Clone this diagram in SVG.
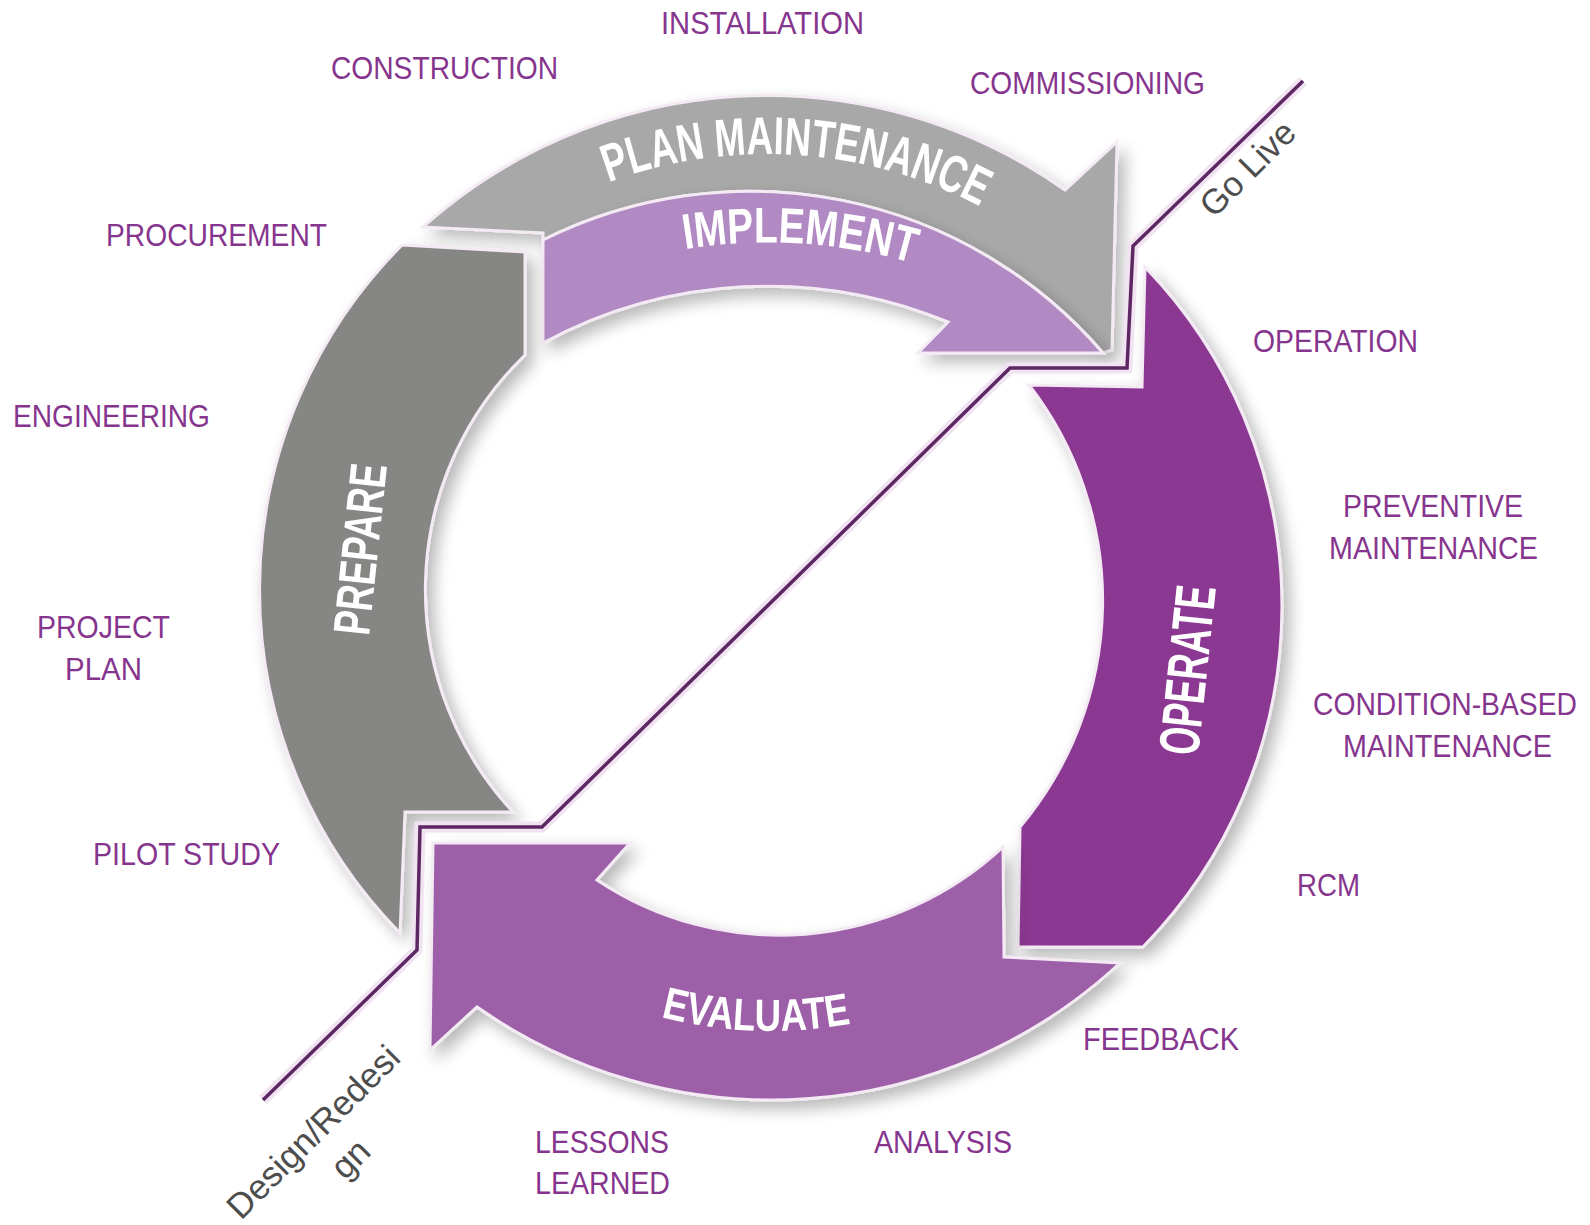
<svg xmlns="http://www.w3.org/2000/svg" width="1590" height="1225" viewBox="0 0 1590 1225">
<defs>
<style>
.lbl{font-family:"Liberation Sans Narrow","Liberation Sans",Arial,sans-serif;font-size:32px;fill:#86358e;}
.lblw{font-family:"Liberation Sans",Arial,sans-serif;font-size:32px;fill:#86358e;}
.ring{font-family:"Liberation Sans Narrow","Liberation Sans",Arial,sans-serif;font-weight:bold;fill:#ffffff;}
.note{font-family:"Liberation Sans",Arial,sans-serif;font-size:35px;fill:#4d4d4d;}
.band{stroke:#f3eaf4;stroke-width:3;stroke-linejoin:miter;}
.halo{fill:none;stroke:#f1e3f2;stroke-width:11;stroke-linejoin:miter;}
.line{fill:none;stroke:#5c2763;stroke-width:3.5;stroke-linejoin:miter;}
</style>
<filter id="sh" x="-15%" y="-15%" width="140%" height="140%">
<feGaussianBlur in="SourceAlpha" stdDeviation="8"/>
<feOffset dx="7" dy="8"/>
<feComponentTransfer><feFuncA type="linear" slope="0.28"/></feComponentTransfer>
<feMerge><feMergeNode/><feMergeNode in="SourceGraphic"/></feMerge>
</filter>
<path id="tp-plan" d="M471.1,262.5 A458,458 0 0 1 1105.9,304.0"/>
<path id="tp-impl" d="M461.1,343.4 A516,516 0 0 1 1123.2,384.7"/>
<path id="tp-eval" d="M648.9,1013.8 A443,443 0 0 0 863.1,1021.3"/>
</defs>
<rect width="1590" height="1225" fill="#ffffff"/>

<g id="node-plan-maintenance" filter="url(#sh)">
<path class="band" fill="#a8a8a8" d="M423,227 A516,516 0 0 1 1065,190 L1117,142 L1112,350 L1103,353 A465,465 0 0 0 543,240 L543,233 Z"/>
<text class="ring" font-size="53"><textPath href="#tp-plan" startOffset="50%" text-anchor="middle" textLength="383" lengthAdjust="spacingAndGlyphs">PLAN MAINTENANCE</textPath></text>
</g>

<g id="node-implement" filter="url(#sh)">
<path class="band" fill="#b189c3" d="M543,240 A465,465 0 0 1 1103,353 L918,353 L948,322 A472,472 0 0 0 543,343 Z"/>
<text class="ring" font-size="50"><textPath href="#tp-impl" startOffset="50%" text-anchor="middle" textLength="230" lengthAdjust="spacingAndGlyphs">IMPLEMENT</textPath></text>
</g>

<g id="node-prepare" filter="url(#sh)">
<path class="band" fill="#868684" d="M402,245 L525,252 L525,355 A326,326 0 0 0 513,812 L405,812 L400,933 A489,489 0 0 1 402,245 Z"/>
<text class="ring" font-size="52" text-anchor="middle" textLength="172" lengthAdjust="spacingAndGlyphs" transform="translate(378,551) rotate(-84)">PREPARE</text>
</g>

<g id="node-operate" filter="url(#sh)">
<path class="band" fill="#8a3891" d="M1145,267 L1142,387 L1029,385 A352,352 0 0 1 1020,827 L1018,947 L1143,947 A488,488 0 0 0 1145,267 Z"/>
<text class="ring" font-size="57" text-anchor="middle" textLength="170" lengthAdjust="spacingAndGlyphs" transform="translate(1207,672) rotate(-84)">OPERATE</text>
</g>

<g id="node-evaluate" filter="url(#sh)">
<path class="band" fill="#9d5fa8" d="M433,843 L630,843 L597,880 A328,328 0 0 0 1003,847 L1004,957 L1120,963 A512,512 0 0 1 477,1007 L430,1050 Z"/>
<text class="ring" font-size="45"><textPath href="#tp-eval" startOffset="50%" text-anchor="middle" textLength="192" lengthAdjust="spacingAndGlyphs">EVALUATE</textPath></text>
</g>

<g id="connectors">
<polyline class="halo" points="1303,81 1133,246 1127,368 1010,368 542,827 420,827 417,950 263,1100"/>
<polyline class="line" points="1303,81 1133,246 1127,368 1010,368 542,827 420,827 417,950 263,1100"/>
<text class="note" textLength="119" lengthAdjust="spacingAndGlyphs" transform="translate(1214,219) rotate(-45)">Go Live</text>
<text class="note" textLength="228" lengthAdjust="spacingAndGlyphs" transform="translate(241,1221) rotate(-45)">Design/Redesi</text>
<text class="note" textLength="39" lengthAdjust="spacingAndGlyphs" transform="translate(345,1181) rotate(-45)">gn</text>
</g>

<g id="labels">
<text class="lbl" x="661" y="34" textLength="203" lengthAdjust="spacingAndGlyphs">INSTALLATION</text>
<text class="lbl" x="331" y="79" textLength="227" lengthAdjust="spacingAndGlyphs">CONSTRUCTION</text>
<text class="lbl" x="970" y="94" textLength="235" lengthAdjust="spacingAndGlyphs">COMMISSIONING</text>
<text class="lbl" x="106" y="246" textLength="221" lengthAdjust="spacingAndGlyphs">PROCUREMENT</text>
<text class="lbl" x="13" y="427" textLength="197" lengthAdjust="spacingAndGlyphs">ENGINEERING</text>
<text class="lbl" x="37" y="638" textLength="133" lengthAdjust="spacingAndGlyphs">PROJECT</text>
<text class="lbl" x="65" y="680" textLength="77" lengthAdjust="spacingAndGlyphs">PLAN</text>
<text class="lbl" x="93" y="865" textLength="187" lengthAdjust="spacingAndGlyphs">PILOT STUDY</text>
<text class="lbl" x="1253" y="352" textLength="165" lengthAdjust="spacingAndGlyphs">OPERATION</text>
<text class="lbl" x="1343" y="517" textLength="180" lengthAdjust="spacingAndGlyphs">PREVENTIVE</text>
<text class="lbl" x="1329" y="559" textLength="209" lengthAdjust="spacingAndGlyphs">MAINTENANCE</text>
<text class="lblw" transform="translate(1313,715) scale(0.884,1)">CONDITION-BASED</text>
<text class="lbl" x="1343" y="757" textLength="209" lengthAdjust="spacingAndGlyphs">MAINTENANCE</text>
<text class="lbl" x="1297" y="896" textLength="63" lengthAdjust="spacingAndGlyphs">RCM</text>
<text class="lbl" x="1083" y="1050" textLength="156" lengthAdjust="spacingAndGlyphs">FEEDBACK</text>
<text class="lbl" x="874" y="1153" textLength="138" lengthAdjust="spacingAndGlyphs">ANALYSIS</text>
<text class="lbl" x="535" y="1153" textLength="134" lengthAdjust="spacingAndGlyphs">LESSONS</text>
<text class="lbl" x="535" y="1194" textLength="135" lengthAdjust="spacingAndGlyphs">LEARNED</text>
</g>
</svg>
